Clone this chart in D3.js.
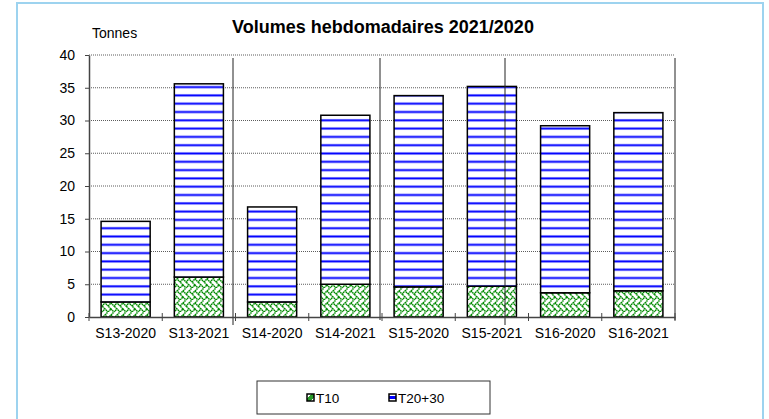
<!DOCTYPE html>
<html>
<head>
<meta charset="utf-8">
<script src="https://cdn.jsdelivr.net/npm/d3@7"></script>
<style>
  body { margin: 0; background: #fff; }
  text { font-family: "Liberation Sans", Arial, sans-serif; }
</style>
</head>
<body>
<script>
// data
var categories = ["S13-2020", "S13-2021", "S14-2020", "S14-2021", "S15-2020", "S15-2021", "S16-2020", "S16-2021"];
var t10 = [2.3, 6.1, 2.3, 5.0, 4.6, 4.7, 3.7, 4.0];
var t2030 = [12.3, 29.5, 14.5, 25.8, 29.2, 30.5, 25.5, 27.2];
var yTicks = [0, 5, 10, 15, 20, 25, 30, 35, 40];
var seriesNames = ["T10", "T20+30"];

var width = 769, height = 419;
var margin = {left: 89, right: 94, top: 55, bottom: 102};

var svg = d3.select("body").append("svg")
    .attr("width", width)
    .attr("height", height);

// patterns
var defs = svg.append("defs");
var pBlue = defs.append("pattern")
    .attr("id", "hlines")
    .attr("patternUnits", "userSpaceOnUse")
    .attr("width", 8).attr("height", 8.3);
pBlue.append("rect").attr("width", 8).attr("height", 8.3).attr("fill", "#fff");
pBlue.append("rect").attr("y", 2.6).attr("width", 8).attr("height", 3).attr("fill", "#d4d4ff");
pBlue.append("rect").attr("y", 3.2).attr("width", 8).attr("height", 1.8).attr("fill", "#0000ff");

var pGreen = defs.append("pattern")
    .attr("id", "weave")
    .attr("patternUnits", "userSpaceOnUse")
    .attr("width", 12).attr("height", 12);
pGreen.append("rect").attr("width", 12).attr("height", 12).attr("fill", "#fff");
pGreen.append("path")
    .attr("d", "M0,6 L3,3 L6,6 L9,3 L12,6 M0,12 L3,9 L6,12 L9,9 L12,12 M3,3 L6,0 M9,3 L12,0 M3,9 L0,6 M9,9 L6,6")
    .attr("fill", "none")
    .attr("stroke", "#008a00")
    .attr("stroke-width", 1.5)
    .attr("stroke-dasharray", "1.5,0.5");

// small swatch fills for the legend
var lgBlue = defs.append("linearGradient").attr("id", "lgBlue").attr("x1", 0).attr("x2", 0).attr("y1", 0).attr("y2", 1);
lgBlue.append("stop").attr("offset", "0.35").attr("stop-color", "#fff");
lgBlue.append("stop").attr("offset", "0.35").attr("stop-color", "#0000ff");
lgBlue.append("stop").attr("offset", "0.7").attr("stop-color", "#0000ff");
lgBlue.append("stop").attr("offset", "0.7").attr("stop-color", "#fff");
var lgGreen = defs.append("linearGradient").attr("id", "lgGreen").attr("x1", 0).attr("x2", 1).attr("y1", 0).attr("y2", 1);
lgGreen.append("stop").attr("offset", "0.3").attr("stop-color", "#fff");
lgGreen.append("stop").attr("offset", "0.3").attr("stop-color", "#2a9a2a");
lgGreen.append("stop").attr("offset", "0.75").attr("stop-color", "#2a9a2a");
lgGreen.append("stop").attr("offset", "0.75").attr("stop-color", "#fff");

// outer frame
svg.append("rect")
    .attr("x", 17).attr("y", 3)
    .attr("width", 746).attr("height", 430)
    .attr("fill", "none")
    .attr("stroke", "#9dd3ef")
    .attr("stroke-width", 2);

var x = d3.scaleBand()
    .domain(categories)
    .range([margin.left, width - margin.right])
    .paddingInner(0.33)
    .paddingOuter(0.165);

var y = d3.scaleLinear()
    .domain([0, 40])
    .range([height - margin.bottom, margin.top]);

// gridlines
svg.append("g")
    .selectAll("line")
    .data(yTicks.filter(function(d) { return d > 0; }))
    .enter().append("line")
    .attr("x1", margin.left).attr("x2", width - margin.right)
    .attr("y1", function(d) { return y(d); })
    .attr("y2", function(d) { return y(d); })
    .attr("stroke", "#333")
    .attr("stroke-width", 0.8)
    .attr("stroke-dasharray", "1,1");

// stacked bars
var rows = categories.map(function(c, i) { return {cat: c, T10: t10[i], "T20+30": t2030[i]}; });
var stack = d3.stack().keys(seriesNames)(rows);
var fills = {"T10": "url(#weave)", "T20+30": "url(#hlines)"};
var swatchFills = {"T10": "url(#lgGreen)", "T20+30": "url(#lgBlue)"};

svg.append("g")
    .selectAll("g")
    .data(stack)
    .enter().append("g")
    .attr("fill", function(d) { return fills[d.key]; })
    .selectAll("rect")
    .data(function(d) { return d; })
    .enter().append("rect")
    .attr("x", function(d) { return x(d.data.cat); })
    .attr("y", function(d) { return y(d[1]); })
    .attr("width", x.bandwidth())
    .attr("height", function(d) { return y(d[0]) - y(d[1]); })
    .attr("stroke", "#000")
    .attr("stroke-width", 1.5);

// odd vertical lines from the original chart
var vlines = [
  {x: 233, y1: 58, y2: 325},
  {x: 380, y1: 58, y2: 320},
  {x: 505, y1: 58, y2: 325},
  {x: 675, y1: 58, y2: 320}
];
svg.append("g")
    .selectAll("line")
    .data(vlines)
    .enter().append("line")
    .attr("x1", function(d) { return d.x; }).attr("x2", function(d) { return d.x; })
    .attr("y1", function(d) { return d.y1; }).attr("y2", function(d) { return d.y2; })
    .attr("stroke", "#222")
    .attr("stroke-width", 1);

// y axis
var yAxis = svg.append("g")
    .attr("transform", "translate(" + margin.left + ",0)")
    .call(d3.axisLeft(y).tickValues(yTicks).tickSize(4).tickSizeOuter(0));
yAxis.select(".domain").attr("stroke", "#444").attr("stroke-width", 1.5);
yAxis.selectAll(".tick line").attr("stroke", "#444");
yAxis.selectAll("text")
    .attr("x", -14)
    .style("font-size", "14px")
    .style("font-family", "Liberation Sans, Arial, sans-serif")
    .attr("fill", "#000");

// x axis
var xAxis = svg.append("g")
    .attr("transform", "translate(0," + y(0) + ")")
    .call(d3.axisBottom(x).tickSize(0));
xAxis.select(".domain").attr("stroke", "#444").attr("stroke-width", 1.5);
xAxis.selectAll("text")
    .attr("dy", "0.71em")
    .attr("y", 11)
    .style("font-size", "14px")
    .style("font-family", "Liberation Sans, Arial, sans-serif")
    .attr("fill", "#000");
// category separator ticks
var bounds = d3.range(categories.length + 1).map(function(i) {
  return margin.left + i * (width - margin.left - margin.right) / categories.length;
});
svg.append("g")
    .selectAll("line")
    .data(bounds)
    .enter().append("line")
    .attr("x1", function(d) { return d; }).attr("x2", function(d) { return d; })
    .attr("y1", y(0) - 4).attr("y2", y(0) + 4)
    .attr("stroke", "#444");

// titles
svg.append("text")
    .attr("x", 383).attr("y", 33)
    .attr("text-anchor", "middle")
    .style("font-size", "18px")
    .style("font-weight", "bold")
    .text("Volumes hebdomadaires 2021/2020");

svg.append("text")
    .attr("x", 92).attr("y", 38)
    .style("font-size", "14px")
    .text("Tonnes");

// legend
var legend = svg.append("g");
legend.append("rect")
    .attr("x", 257).attr("y", 381)
    .attr("width", 233).attr("height", 33)
    .attr("fill", "#fff")
    .attr("stroke", "#333")
    .attr("stroke-width", 1);

var legendPos = [307, 389];
var items = legend.selectAll("g.item")
    .data(seriesNames)
    .enter().append("g")
    .attr("class", "item")
    .attr("transform", function(d, i) { return "translate(" + legendPos[i] + ",398)"; });
items.append("rect")
    .attr("x", 0).attr("y", -4)
    .attr("width", 7).attr("height", 7)
    .attr("fill", function(d) { return swatchFills[d]; })
    .attr("stroke", "#000")
    .attr("stroke-width", 1.5);
items.append("text")
    .attr("x", 9).attr("y", 5)
    .style("font-size", "13.5px")
    .text(function(d) { return d; });
</script>
</body>
</html>
